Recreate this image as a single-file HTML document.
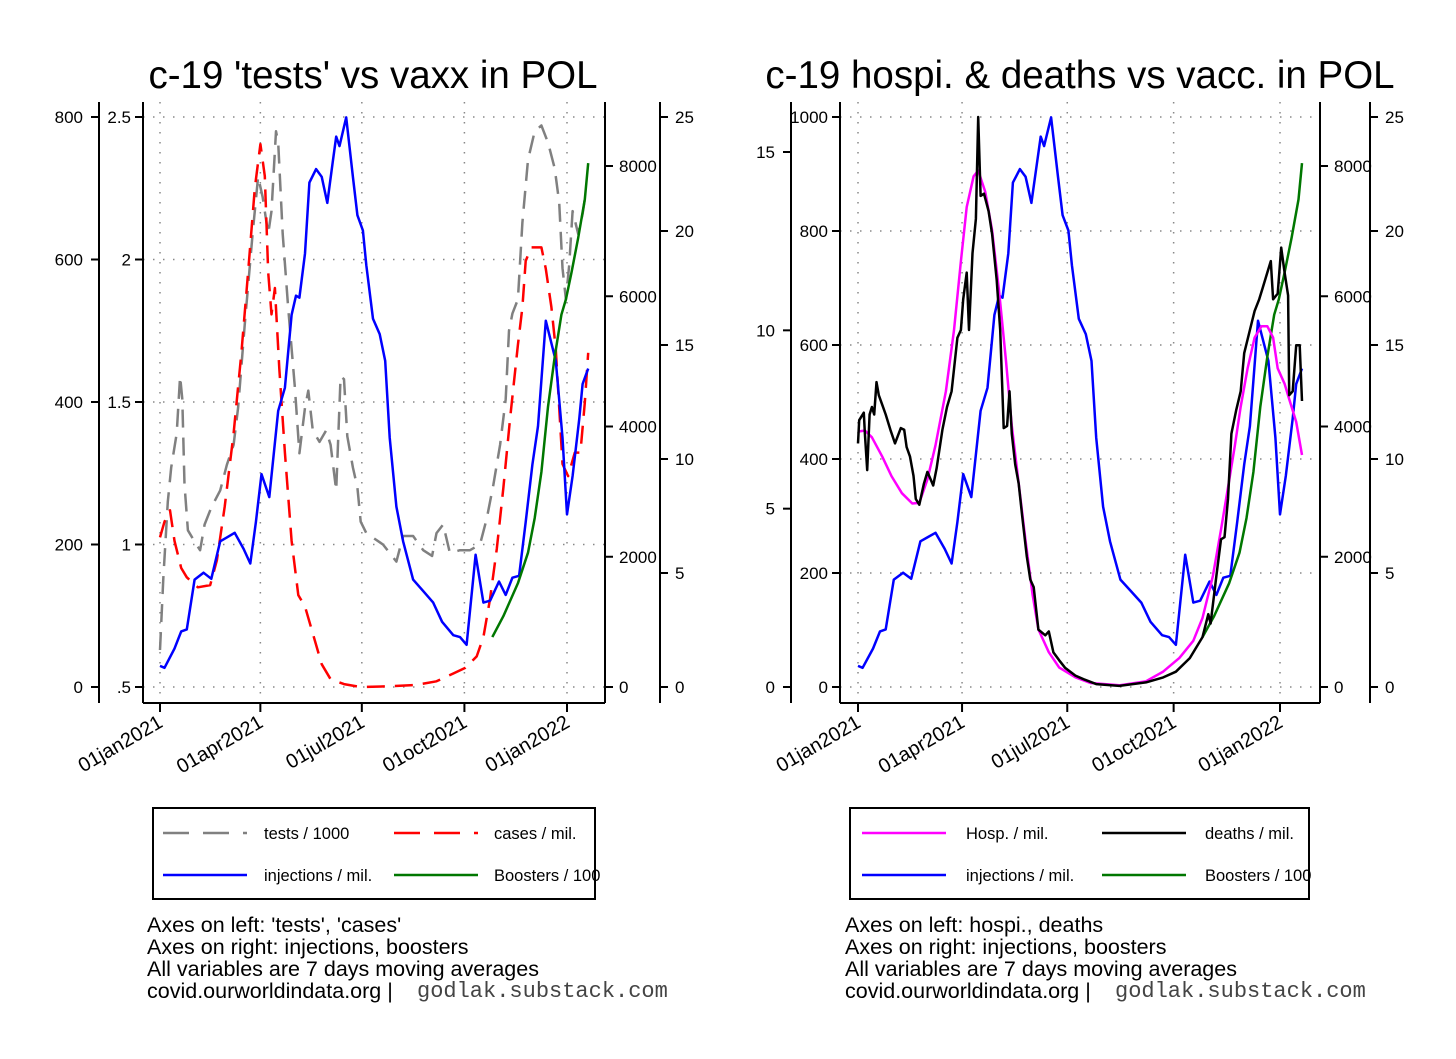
<!DOCTYPE html>
<html><head><meta charset="utf-8"><style>
html,body{margin:0;padding:0;background:#fff;}
svg{display:block;font-family:"Liberation Sans",Arial,sans-serif;}
</style></head><body>
<svg id="c" width="1456" height="1059" viewBox="0 0 1456 1059" xmlns="http://www.w3.org/2000/svg">
<rect width="1456" height="1059" fill="#fff"/>
</svg>
<script>
// ---- data (day offset from 01jan2021) ----
const injDays=[0,4,13,19,24,31,39,46,54,60,67,75,81,86,91,98,106,112,118,122,125,130,134,140,145,150,155,158,161,167,173,177,182,185,191,197,202,206,212,218,227,236,245,253,263,269,275,283,290,296,304,310,316,322,328,334,339,346,355,361,365,370,376,379,384];
const injVals=[324,295,589,854,884,1649,1755,1661,2238,2297,2368,2120,1897,2533,3269,2916,4241,4594,5713,6008,5978,6656,7745,7952,7834,7433,8069,8452,8305,8747,7834,7245,7009,6479,5654,5419,5007,3829,2768,2238,1649,1473,1296,1001,795,766,648,2032,1296,1325,1620,1414,1679,1708,2533,3416,4005,5625,5007,3829,2651,3240,4123,4653,4889];
const boostDays=[298,308,321,330,336,342,348,354,360,364,369,375,381,384];
const boostVals=[2.19,3.11,4.55,5.89,7.41,9.43,12.29,14.48,16.33,17.0,18.18,19.7,21.38,22.98];
const caseDays=[0,4,9,13,19,24,34,45,51,58,66,73,79,85,90,94,97,100,103,107,112,118,124,130,136,145,153,165,180,206,230,248,263,274,284,290,296,302,308,314,321,325,328,333,342,346,351,355,361,366,372,377,381,384];
const caseVals=[210,232,248,205,167,154,140,143,178,253,356,469,582,700,762,717,582,523,560,447,329,205,129,113,81,32,11,4,0,1,3,8,19,27,43,70,124,194,280,377,480,533,598,617,617,587,533,474,313,296,329,329,399,469];
const testDays=[0,3,7,10,15,18,20,22,25,31,36,40,46,54,60,66,70,76,83,88,92,97,100,104,106,110,115,121,125,130,133,137,143,149,153,158,162,165,168,173,177,180,185,200,212,218,227,236,244,248,254,260,269,278,287,293,299,305,310,313,316,321,325,330,336,342,348,354,358,361,364,367,370,375,379,382];
const testVals=[0.63,0.88,1.15,1.27,1.39,1.59,1.51,1.21,1.05,1.01,0.98,1.07,1.13,1.19,1.28,1.35,1.48,1.77,2.09,2.29,2.22,2.09,2.17,2.45,2.41,2.09,1.83,1.55,1.32,1.48,1.54,1.40,1.36,1.40,1.35,1.19,1.59,1.58,1.38,1.27,1.20,1.08,1.04,1.00,0.94,1.03,1.03,0.98,0.96,1.04,1.07,0.97,0.98,0.98,1.00,1.09,1.21,1.35,1.51,1.75,1.81,1.86,2.13,2.35,2.45,2.47,2.41,2.32,2.20,1.97,1.86,1.98,2.17,2.09,2.16,2.24];
const hospDays=[0,6,12,21,29,38,47,53,60,67,76,83,89,94,100,104,110,116,122,128,133,139,145,151,156,165,174,188,201,226,249,264,278,290,298,307,314,320,326,331,337,343,349,354,359,363,369,373,379,384];
const hospVals=[448,450,438,404,370,340,322,323,364,424,519,626,747,842,896,906,869,801,694,572,458,357,256,162,101,61,34,17,7,3,10,27,51,81,121,195,276,350,424,492,559,613,633,633,613,559,532,505,465,407];
const deathDays=[0,1,5,6,8,10,12,14,16,18,21,24,28,32,37,40,42,45,48,50,53,57,60,63,65,68,73,77,81,86,89,91,94,96,99,102,104,106,109,113,116,120,123,126,129,131,133,136,139,142,146,149,152,156,162,165,169,174,179,188,195,206,226,249,264,275,287,298,303,305,310,314,317,320,323,327,331,334,339,343,347,350,354,357,359,363,366,369,372,373,376,379,382,384];
const deathVals=[6.83,7.48,7.69,7.10,6.08,7.64,7.85,7.64,8.55,8.18,7.91,7.64,7.21,6.83,7.26,7.21,6.73,6.46,5.92,5.27,5.11,5.70,6.03,5.81,5.65,6.13,7.21,7.85,8.29,9.79,10.01,10.87,11.62,10.01,12.16,13.13,15.98,13.77,13.83,13.34,12.70,11.41,10.01,7.26,7.32,8.29,7.10,6.24,5.70,4.79,3.66,3.01,2.80,1.61,1.45,1.56,0.97,0.75,0.54,0.32,0.22,0.08,0.03,0.13,0.27,0.43,0.81,1.40,2.04,1.78,3.12,4.14,4.20,5.27,7.10,7.75,8.29,9.36,10.01,10.54,10.87,11.19,11.62,11.94,10.87,11.03,12.32,11.62,10.98,8.18,8.29,9.58,9.58,8.02];
const dateTickDays=[0,90,181,273,365];
const dateTickLabels=["01jan2021","01apr2021","01jul2021","01oct2021","01jan2022"];
const casesTicks=[0,200,400,600,800];
const testsTicks=[0.5,1,1.5,2,2.5];
const testsTickLabels=[".5","1","1.5","2","2.5"];
const injTicks=[0,2000,4000,6000,8000];
const boostTicks=[0,5,10,15,20,25];
const hospTicks=[0,200,400,600,800,1000];
const deathTicks=[0,5,10,15];

// ---- scales ----
const xL=d=>160+d*407/365, xR=d=>858+d*422/365;
const yCases=v=>687-v*570/800;
const yTests=v=>687-(v-0.5)*285;
const yInj=v=>687-v*521/8000;
const yBoost=v=>687-v*570/25;
const yHosp=v=>687-v*570/1000;
const yDeath=v=>687-v*535/15;

const svg=document.getElementById('c');
const NS='http://www.w3.org/2000/svg';
function mk(tag,attrs,parent){const e=document.createElementNS(NS,tag);for(const k in attrs)e.setAttribute(k,attrs[k]);(parent||svg).appendChild(e);return e;}
function txt(x,y,s,size,anchor,parent,extra){const t=mk('text',Object.assign({x:x,y:y,'font-size':size,'text-anchor':anchor||'start',fill:'#000'},extra||{}),parent);t.textContent=s;return t;}
function line(x1,y1,x2,y2,parent,extra){return mk('line',Object.assign({x1,y1,x2,y2,stroke:'#000','stroke-width':2},extra||{}),parent);}
function series(days,vals,xf,yf,color,dash,name,parent){
  let d='';for(let i=0;i<days.length;i++){d+=(i?'L':'M')+xf(days[i]).toFixed(1)+','+yf(vals[i]).toFixed(1);}
  const p=mk('path',{d:d,fill:'none',stroke:color,'stroke-width':2.5,'stroke-linejoin':'round'},parent);
  if(dash)p.setAttribute('stroke-dasharray',dash);
  
  
  return p;
}

function panel(o){
  const g=mk('g',{});
  
  
  const t=txt(o.titleX,88,o.title,38.5,'middle',g);
  
  
  const grid=mk('g',{stroke:'#888','stroke-width':1.5,'stroke-dasharray':'1.5 8.5'},g);
  
  
  o.gridY.forEach(y=>mk('line',{x1:o.px0,y1:y,x2:o.px1,y2:y},grid));
  dateTickDays.forEach(d=>{const x=o.xf(d);mk('line',{x1:x,y1:102,x2:x,y2:703},grid);});
  const a1=mk('g',{},g);
  
  
  line(o.ax0,102,o.ax0,703,a1);
  o.outerTicks.forEach((v,i)=>{const y=o.outerY(v);line(o.ax0-8,y,o.ax0,y,a1);txt(o.ax0-16,y+6,o.outerLabels[i],17,'end',a1);});
  const a2=mk('g',{},g);
  
  
  line(o.px0,102,o.px0,703,a2);
  o.innerTicks.forEach((v,i)=>{const y=o.innerY(v);line(o.px0-8,y,o.px0,y,a2);txt(o.px0-12,y+6,o.innerLabels[i],17,'end',a2);});
  const a3=mk('g',{},g);
  
  
  line(o.px0,703,o.px1,703,a3);
  dateTickDays.forEach((d,i)=>{const x=o.xf(d);line(x,703,x,712,a3);
    txt(0,0,dateTickLabels[i],20,'end',a3,{transform:'translate('+(x+4)+',726) rotate(-30)'});});
  const a4=mk('g',{},g);
  
  
  line(o.px1,102,o.px1,703,a4);
  injTicks.forEach(v=>{const y=yInj(v);line(o.px1,y,o.px1+8,y,a4);txt(o.px1+14,y+6,String(v),17,'start',a4);});
  const a5=mk('g',{},g);
  
  
  line(o.bx,102,o.bx,703,a5);
  boostTicks.forEach(v=>{const y=yBoost(v);line(o.bx,y,o.bx+8,y,a5);txt(o.bx+15,y+6,String(v),17,'start',a5);});
  return g;
}

const gL=panel({name:'tests-vaxx-panel',title:"c-19 'tests' vs vaxx in POL",titleX:373,px0:143,px1:605,ax0:99,bx:660,xf:xL,
  gridY:casesTicks.map(yCases),outerTicks:casesTicks,outerY:yCases,outerLabels:casesTicks.map(String),
  innerTicks:testsTicks,innerY:yTests,innerLabels:testsTickLabels});
series(testDays,testVals,xL,yTests,'#808080','18 10','tests-line',gL);
series(caseDays,caseVals,xL,yCases,'#ff0000','18 10','cases-line',gL);
series(injDays,injVals,xL,yInj,'#0000ff',null,'injections-line',gL);
series(boostDays,boostVals,xL,yBoost,'#007700',null,'boosters-line',gL);

const gR=panel({name:'hospi-deaths-panel',title:"c-19 hospi. & deaths vs vacc. in POL",titleX:1080,px0:840,px1:1320,ax0:791,bx:1370,xf:xR,
  gridY:hospTicks.map(yHosp),outerTicks:deathTicks,outerY:yDeath,outerLabels:deathTicks.map(String),
  innerTicks:hospTicks,innerY:yHosp,innerLabels:hospTicks.map(String)});
series(injDays,injVals,xR,yInj,'#0000ff',null,'injections-line',gR);
series(boostDays,boostVals,xR,yBoost,'#007700',null,'boosters-line',gR);
series(hospDays,hospVals,xR,yHosp,'#ff00ff',null,'hospital-line',gR);
series(deathDays,deathVals,xR,yDeath,'#000000',null,'deaths-line',gR);

function legend(x0,x1,entries,name){
  const g=mk('g',{});
  
  
  mk('rect',{x:x0,y:808,width:x1-x0,height:91,fill:'#fff',stroke:'#000','stroke-width':2},g);
  entries.forEach(e=>{
    const l=mk('line',{x1:e.lx,y1:e.y,x2:e.lx+84,y2:e.y,stroke:e.c,'stroke-width':2.5},g);
    if(e.dash)l.setAttribute('stroke-dasharray',e.dash);
    
    
    const t=txt(e.tx,e.y+6,e.t,16.5,'start',g);
    
    
  });
}
legend(153,595,[
 {lx:163,tx:264,y:833,c:'#808080',dash:'26 14',t:'tests / 1000'},
 {lx:394,tx:494,y:833,c:'#ff0000',dash:'26 14',t:'cases / mil.'},
 {lx:163,tx:264,y:875,c:'#0000ff',t:'injections / mil.'},
 {lx:394,tx:494,y:875,c:'#007700',t:'Boosters / 100'}],'legend-left');
legend(850,1309,[
 {lx:862,tx:966,y:833,c:'#ff00ff',t:'Hosp. / mil.'},
 {lx:1102,tx:1205,y:833,c:'#000000',t:'deaths / mil.'},
 {lx:862,tx:966,y:875,c:'#0000ff',t:'injections / mil.'},
 {lx:1102,tx:1205,y:875,c:'#007700',t:'Boosters / 100'}],'legend-right');

function notes(x,lines,name){
  const g=mk('g',{});
  
  
  lines.forEach((s,i)=>txt(x,932+i*22,s,21.5,'start',g));
  txt(x,998,'covid.ourworldindata.org |',21.5,'start',g);
  txt(x+270,997,'godlak.substack.com',22,'start',g,{'font-family':'"Liberation Mono",monospace',fill:'#444'});
}
notes(147,["Axes on left: 'tests', 'cases'","Axes on right: injections, boosters","All variables are 7 days moving averages"],'notes-left');
notes(845,["Axes on left: hospi., deaths","Axes on right: injections, boosters","All variables are 7 days moving averages"],'notes-right');
</script>
</body></html>
